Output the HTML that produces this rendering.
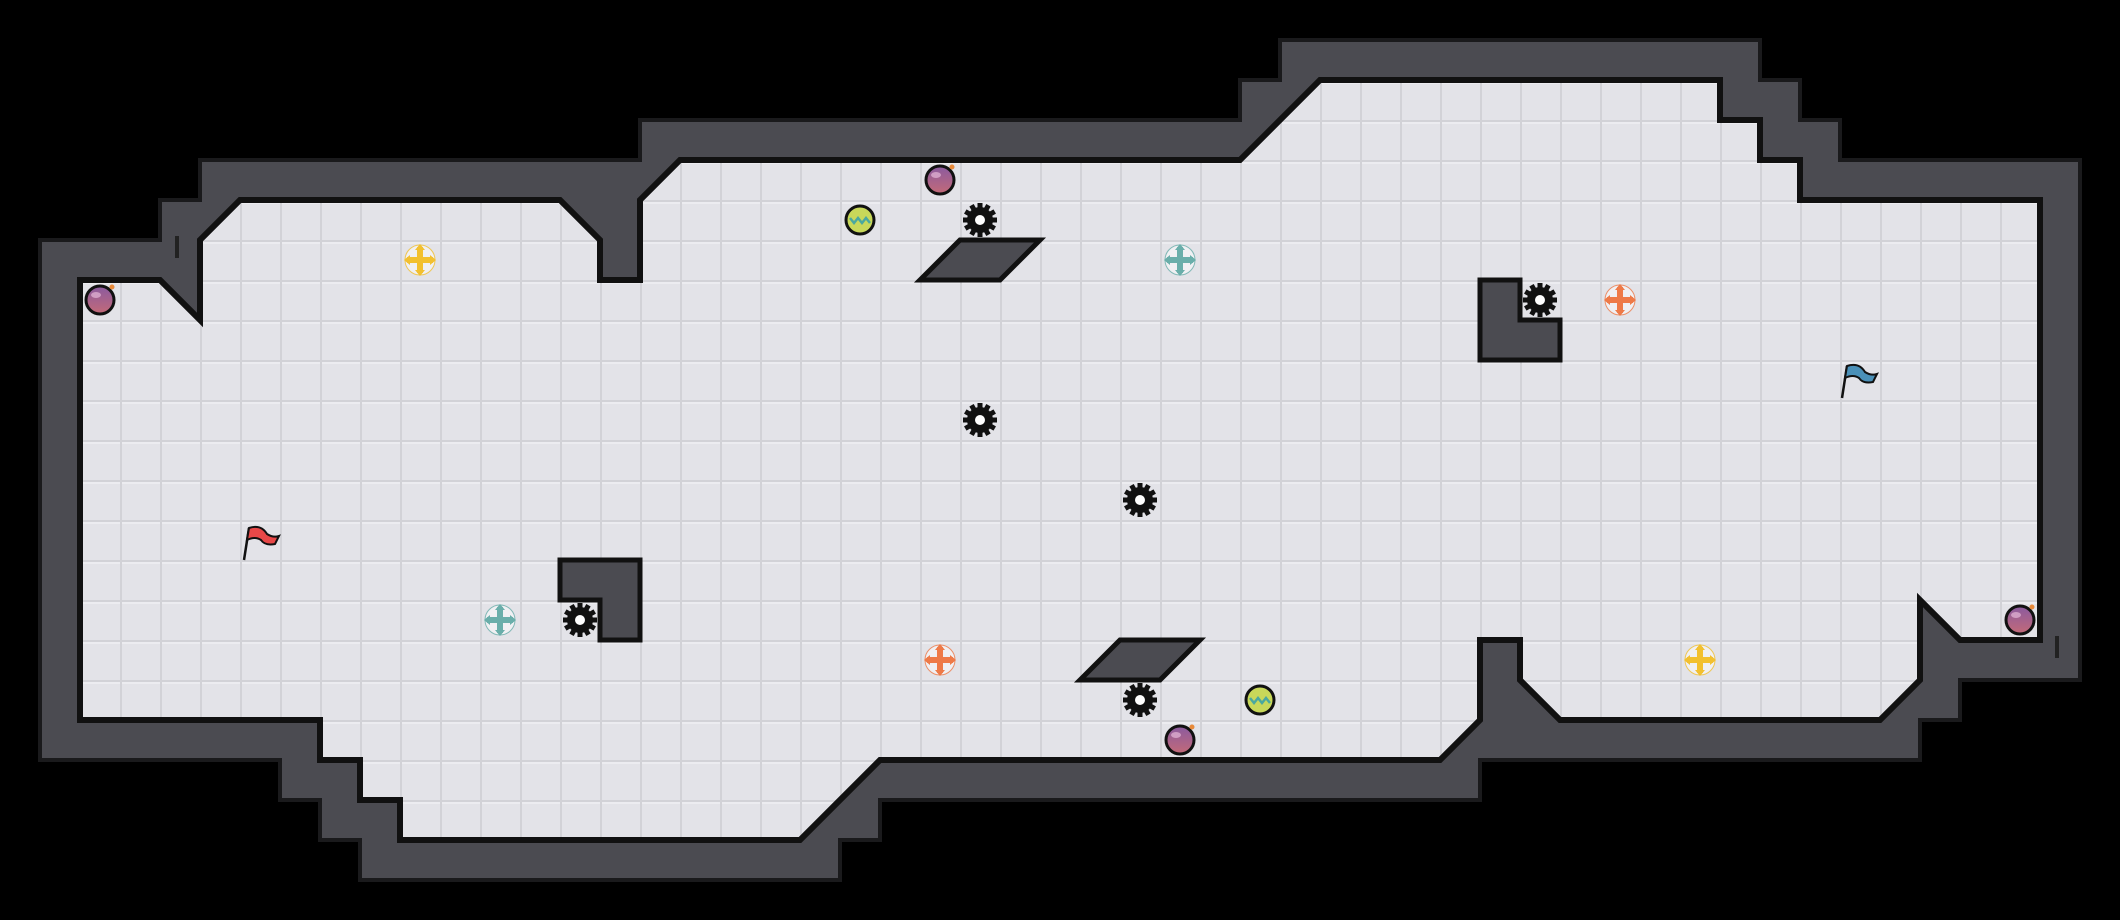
<!DOCTYPE html>
<html><head><meta charset="utf-8"><style>
html,body{margin:0;padding:0;background:#000;width:2120px;height:920px;overflow:hidden}
svg{display:block}
</style></head><body>
<svg width="2120" height="920" viewBox="0 0 2120 920" xmlns="http://www.w3.org/2000/svg">
<defs>
<pattern id="g" width="40" height="40" patternUnits="userSpaceOnUse">
<rect width="40" height="40" fill="#e3e3e8"/>
<rect x="0" y="0" width="40" height="2" fill="#d2d2d7"/>
<rect x="0" y="0" width="2" height="40" fill="#d2d2d7"/>
<rect x="2" y="2" width="38" height="2" fill="#ececf0"/>
</pattern>
<linearGradient id="bg" x1="0" y1="0" x2="0" y2="1"><stop offset="0" stop-color="#8a5aa0"/><stop offset="1" stop-color="#c46a78"/></linearGradient>
<g id="gear"><circle r="13" fill="#111"/>
<g fill="#111"><rect x="-2.5" y="-17" width="5" height="34"/><rect x="-2.5" y="-17" width="5" height="34" transform="rotate(30)"/><rect x="-2.5" y="-17" width="5" height="34" transform="rotate(60)"/><rect x="-2.5" y="-17" width="5" height="34" transform="rotate(90)"/><rect x="-2.5" y="-17" width="5" height="34" transform="rotate(120)"/><rect x="-2.5" y="-17" width="5" height="34" transform="rotate(150)"/></g>
<circle r="5" fill="#fff"/></g>
<g id="bomb"><circle r="14" fill="url(#bg)" stroke="#111" stroke-width="3"/><ellipse cx="-4" cy="-5" rx="5" ry="3" fill="#e6b8d8" opacity="0.7"/><circle cx="12" cy="-13" r="2.5" fill="#e88a3a"/></g>
<g id="ball"><circle r="14" fill="#c8d85a" stroke="#111" stroke-width="3"/><path d="M-10,-2 l4,5 l4,-5 l4,5 l4,-5 l4,5" stroke="#4aa8a0" stroke-width="2.5" fill="none"/></g>
<g id="cross"><circle r="15" fill="#f4f4f6" opacity="0.8"/><line x1="-13" y1="0" x2="13" y2="0" stroke-width="6"/><line x1="0" y1="-13" x2="0" y2="13" stroke-width="6"/>
<path d="M-16,0 l6,-5 v10z M16,0 l-6,-5 v10z M0,-16 l-5,6 h10z M0,16 l-5,-6 h10z" stroke="none"/></g>
</defs>
<polygon fill="#4b4b51" stroke="#1a1a1c" stroke-width="4" points="40,240 160,240 160,200 200,200 200,160 640,160 640,120 1240,120 1240,80 1280,80 1280,40 1760,40 1760,80 1800,80 1800,120 1840,120 1840,160 2080,160 2080,680 1960,680 1960,720 1920,720 1920,760 1480,760 1480,800 880,800 880,840 840,840 840,880 360,880 360,840 320,840 320,800 280,800 280,760 40,760"/>
<polygon fill="url(#g)" stroke="#111" stroke-width="6" stroke-linejoin="miter" points="80,280 160,280 200,320 200,240 240,200 560,200 600,240 600,280 640,280 640,200 680,160 1240,160 1320,80 1720,80 1720,120 1760,120 1760,160 1800,160 1800,200 2040,200 2040,640 1960,640 1920,600 1920,680 1880,720 1560,720 1520,680 1520,640 1480,640 1480,720 1440,760 880,760 800,840 400,840 400,800 360,800 360,760 320,760 320,720 80,720"/>
<polygon fill="#4b4b51" stroke="#111" stroke-width="5" points="560,560 640,560 640,640 600,640 600,600 560,600"/>
<polygon fill="#4b4b51" stroke="#111" stroke-width="5" points="1480,280 1520,280 1520,320 1560,320 1560,360 1480,360"/>
<polygon fill="#4b4b51" stroke="#111" stroke-width="5" points="920,280 960,240 1040,240 1000,280"/>
<polygon fill="#4b4b51" stroke="#111" stroke-width="5" points="1080,680 1120,640 1200,640 1160,680"/>
<g fill="#222"><rect x="175" y="236" width="4" height="22"/><rect x="2055" y="636" width="4" height="22"/></g>
<use href="#bomb" x="100" y="300"/><use href="#bomb" x="940" y="180"/><use href="#bomb" x="1180" y="740"/><use href="#bomb" x="2020" y="620"/>
<use href="#ball" x="860" y="220"/><use href="#ball" x="1260" y="700"/>
<use href="#gear" x="980" y="220"/><use href="#gear" x="1540" y="300"/><use href="#gear" x="980" y="420"/><use href="#gear" x="1140" y="500"/><use href="#gear" x="580" y="620"/><use href="#gear" x="1140" y="700"/>
<use href="#cross" x="420" y="260" stroke="#f2c030" fill="#f2c030"/>
<use href="#cross" x="1700" y="660" stroke="#f2c030" fill="#f2c030"/>
<use href="#cross" x="1180" y="260" stroke="#6aaeaa" fill="#6aaeaa"/>
<use href="#cross" x="500" y="620" stroke="#6aaeaa" fill="#6aaeaa"/>
<use href="#cross" x="1620" y="300" stroke="#ee7a48" fill="#ee7a48"/>
<use href="#cross" x="940" y="660" stroke="#ee7a48" fill="#ee7a48"/>
<g><line x1="244" y1="560" x2="249" y2="528" stroke="#111" stroke-width="2.5"/><path d="M249,528 q12,-4 18,6 q6,4 12,2 l-4,8 q-10,2 -14,-4 q-6,-4 -14,0z" fill="#e84848" stroke="#111" stroke-width="2"/></g>
<g><line x1="1842" y1="398" x2="1847" y2="366" stroke="#111" stroke-width="2.5"/><path d="M1847,366 q12,-4 18,6 q6,4 12,2 l-4,8 q-10,2 -14,-4 q-6,-4 -14,0z" fill="#4a90b8" stroke="#111" stroke-width="2"/></g>
</svg>
</body></html>
